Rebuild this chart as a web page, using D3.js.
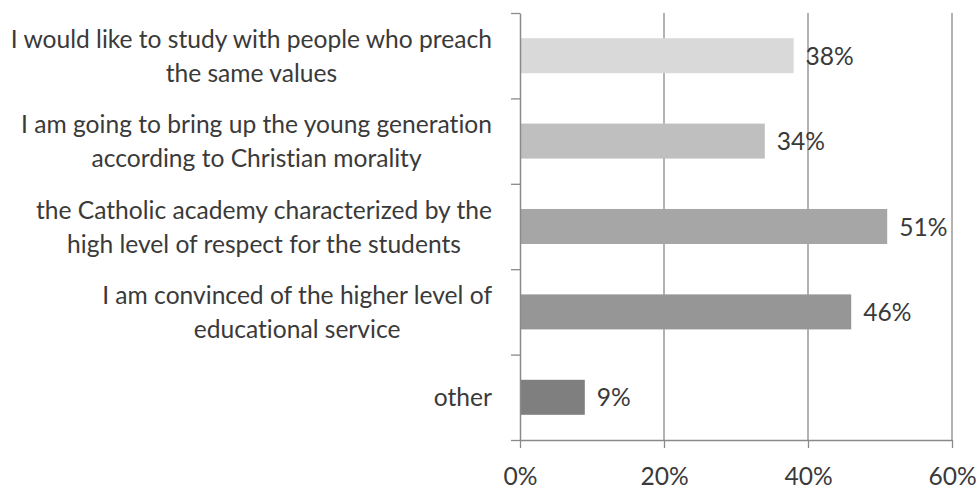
<!DOCTYPE html>
<html>
<head>
<meta charset="utf-8">
<script src="https://cdn.jsdelivr.net/npm/d3@7"></script>
<style>
  html, body { margin: 0; padding: 0; background: #fff; }
  svg { display: block; }
  text {
    font-family: "Lato", "Liberation Sans", sans-serif;
    fill: #3a3a3a;
    font-variant-ligatures: none;
    font-feature-settings: "liga" 0, "dlig" 0;
  }
</style>
</head>
<body>
<svg id="chart" width="978" height="489"></svg>
<script>
// Reasons for choosing a Catholic academy (share of respondents)
const categories = [
  "I would like to study with people who preach\nthe same values",
  "I am going to bring up the young generation\naccording to Christian morality",
  "the Catholic academy characterized by the\nhigh level of respect for the students",
  "I am convinced of the higher level of\neducational service",
  "other"
];
const values = [38, 34, 51, 46, 9];
const barColors = ["#d9d9d9", "#bfbfbf", "#a6a6a6", "#969696", "#7f7f7f"];
const xTicks = [0, 20, 40, 60];

const FONT = 24.6;
const LINE_GAP = 34;
const axisColor = "#8a8a8a";

const svg = d3.select("#chart");

const plot = { left: 520, right: 952, top: 13, bottom: 440 };

const x = d3.scaleLinear().domain([0, 60]).range([plot.left, plot.right]);
const y = d3.scaleBand()
  .domain(categories)
  .range([plot.top, plot.bottom])
  .paddingInner(0.59)
  .paddingOuter(0.295);

// vertical gridlines
svg.append("g")
  .selectAll("line")
  .data(xTicks.filter(d => d > 0))
  .join("line")
  .attr("x1", d => x(d)).attr("x2", d => x(d))
  .attr("y1", plot.top).attr("y2", plot.bottom)
  .attr("stroke", axisColor).attr("stroke-width", 1.3);

// bars
svg.append("g")
  .selectAll("rect")
  .data(categories)
  .join("rect")
  .attr("x", x(0))
  .attr("y", d => y(d))
  .attr("width", (d, i) => x(values[i]) - x(0))
  .attr("height", y.bandwidth())
  .attr("fill", (d, i) => barColors[i]);

// value labels
svg.append("g")
  .selectAll("text")
  .data(categories)
  .join("text")
  .attr("x", (d, i) => x(values[i]) + 12)
  .attr("y", d => y(d) + y.bandwidth() / 2 + 9)
  .attr("font-size", FONT)
  .text((d, i) => values[i] + "%");

// x axis
const xAxis = svg.append("g")
  .attr("transform", `translate(0,${plot.bottom})`)
  .call(d3.axisBottom(x).tickValues(xTicks).tickFormat(d => d + "%").tickSize(8).tickSizeOuter(0).tickPadding(20));
xAxis.attr("font-family", null);
xAxis.select(".domain").attr("stroke", axisColor).attr("stroke-width", 1.5);
xAxis.selectAll(".tick line").attr("stroke", axisColor).attr("stroke-width", 1.3);
xAxis.selectAll(".tick text")
  .attr("font-size", FONT)
  .attr("fill", "#3a3a3a");

// y axis: ticks sit on the category boundaries
const yEdge = d3.scaleLinear().domain([0, categories.length]).range([plot.top, plot.bottom]);
const yAxis = svg.append("g")
  .attr("transform", `translate(${plot.left},0)`)
  .call(d3.axisLeft(yEdge).ticks(categories.length).tickSize(9).tickSizeOuter(0).tickFormat(""));
yAxis.select(".domain").attr("stroke", axisColor).attr("stroke-width", 1.5);
yAxis.selectAll(".tick line").attr("stroke", axisColor).attr("stroke-width", 1.3);

// category labels: centred multi-line blocks, right-aligned against the axis
const labelRight = 492;
const labels = svg.append("g").attr("font-size", FONT);
categories.forEach(cat => {
  const lines = cat.split("\n");
  const cy = y(cat) + y.bandwidth() / 2 + 9;
  const t = labels.append("text").attr("text-anchor", "middle");
  lines.forEach((ln, j) => {
    t.append("tspan")
      .attr("y", cy + (j - (lines.length - 1) / 2) * LINE_GAP)
      .text(ln);
  });
  let maxW = 0;
  t.selectAll("tspan").each(function () { maxW = Math.max(maxW, this.getComputedTextLength()); });
  t.attr("x", labelRight - maxW / 2);
  t.selectAll("tspan").attr("x", labelRight - maxW / 2);
});
</script>
</body>
</html>
